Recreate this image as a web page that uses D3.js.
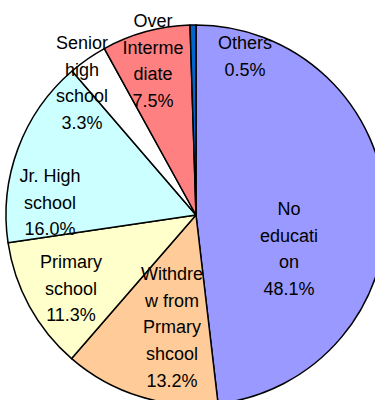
<!DOCTYPE html>
<html>
<head>
<meta charset="utf-8">
<script src="https://cdn.jsdelivr.net/npm/d3@7"></script>
<style>
  html, body { margin: 0; padding: 0; background: #fff; }
  svg { display: block; }
</style>
</head>
<body>
<svg id="chart" width="375" height="400"></svg>
<script>
// ---- data ----
const categories = ["No education", "Withdrew from Prmary shcool", "Primary school", "Jr. High school", "Senior high school", "Over Intermediate", "Others"];
const values = [48.1, 13.2, 11.3, 16.0, 3.3, 7.5, 0.5];
const labelLines = [
  ["No", "educati", "on", "48.1%"],
  ["Withdre", "w from", "Prmary", "shcool", "13.2%"],
  ["Primary", "school", "11.3%"],
  ["Jr. High", "school", "16.0%"],
  ["Senior", "high", "school", "3.3%"],
  ["Over", "Interme", "diate", "7.5%"],
  ["Others", "0.5%"]
];

// ---- layout / style (separate from data) ----
const colors = ["#9999FF", "#FFCC99", "#FFFFCC", "#CCFFFF", "#FFFFFF", "#FF8080", "#0066CC"];
const labelAnchors = [[289, 215], [172, 280], [71, 268], [50, 182], [82, 49], [153, 27], [245, 49]];
const lineHeight = 26.7;
const cx = 196, cy = 215, R = 190;

const svg = d3.select("#chart");
const g = svg.append("g").attr("transform", `translate(${cx},${cy})`);

const pie = d3.pie().sort(null).value(d => d).startAngle(0).endAngle(2 * Math.PI);
const arcs = pie(values);
const arc = d3.arc().innerRadius(0).outerRadius(R);

g.selectAll("path.slice")
  .data(arcs)
  .join("path")
  .attr("class", "slice")
  .attr("d", arc)
  .attr("fill", (d, i) => colors[i])
  .attr("stroke", "#000")
  .attr("stroke-width", 1.5)
  .attr("stroke-linejoin", "round");

const labels = svg.append("g")
  .attr("font-family", "'Liberation Sans', Arial, sans-serif")
  .attr("font-size", 18)
  .attr("fill", "#000")
  .attr("text-anchor", "middle");

categories.forEach((c, i) => {
  const t = labels.append("text");
  labelLines[i].forEach((line, k) => {
    t.append("tspan")
      .attr("x", labelAnchors[i][0])
      .attr("y", labelAnchors[i][1] + k * lineHeight)
      .text(line);
  });
});
</script>
</body>
</html>
